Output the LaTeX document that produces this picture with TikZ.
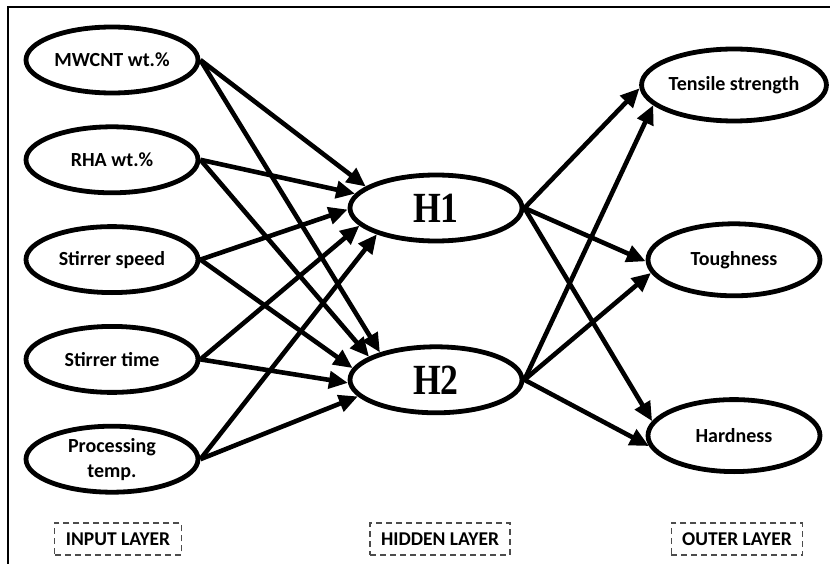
\documentclass[tikz,border=0pt]{standalone}
\usepackage{fontspec}
\setmainfont{Carlito}
\newfontfamily\hidfont[FakeStretch=0.83]{Liberation Serif}
\usetikzlibrary{shapes.geometric, arrows.meta, positioning}
\tikzstyle{inp} = [ellipse, line width=4.8pt, draw=black, minimum width=172pt, minimum height=66pt, inner sep=0pt, align=center, font=\fontsize{20}{25}\selectfont\bfseries]
\tikzstyle{hid} = [ellipse, line width=4.8pt, draw=black, minimum width=172pt, minimum height=66pt, inner sep=0pt, font=\hidfont\fontsize{43}{45}\selectfont\bfseries]
\tikzstyle{outp} = [inp, minimum height=72pt]
\tikzstyle{layer} = [rectangle, draw=black!70, dash pattern=on 6pt off 4pt, line width=1.3pt, minimum height=32pt, inner xsep=11pt, font=\fontsize{19.5}{22}\selectfont\bfseries]
\tikzstyle{arrow} = [line width=4.6pt, -{Triangle[length=19pt,width=17pt]}]

\begin{document}
\begin{tikzpicture}[x=1pt, y=-1pt, node distance = 29pt]
		\useasboundingbox (0,0) rectangle (830,564);
		\draw [line width=1.5pt] (8,564) -- (8,7) -- (830,7);
		% input layer
		\node (MWCNT) [inp] at (112,60) {MWCNT wt.\%};
		\node (RHA) [inp, below = of MWCNT] {RHA wt.\%};
		\node (Speed) [inp, below = of RHA] {Stirrer speed};
		\node (Time) [inp, below = of Speed] {Stirrer time};
		\node (Temp) [inp, below = of Time] {Processing\\temp.};
		% hidden layer
		\node (H1) [hid] at (436,208) {H1};
		\node (H2) [hid, below = 101pt of H1] {H2};
		% outer layer
		\node (Tensile) [outp] at (734,85) {Tensile strength};
		\node (Toughness) [outp, below = 98pt of Tensile] {Toughness};
		\node (Hardness) [outp, below = 99pt of Toughness] {Hardness};
		% layer labels
		\node (InputLayer) [layer] at (118,539) {INPUT LAYER};
		\node (HiddenLayer) [layer] at (440,539) {HIDDEN LAYER};
		\node (OuterLayer) [layer] at (737,539) {OUTER LAYER};
		% input -> hidden
		\draw [arrow] (MWCNT.east) -- (H1.163);
		\draw [arrow] (MWCNT.east) -- (H2.154);
		\draw [arrow] (RHA.east) -- (H1.170);
		\draw [arrow] (RHA.east) -- (H2.161);
		\draw [arrow] (Speed.east) -- (H1.181);
		\draw [arrow] (Speed.east) -- (H2.172);
		\draw [arrow] (Time.east) -- (H1.193);
		\draw [arrow] (Time.east) -- (H2.182);
		\draw [arrow] (Temp.east) -- (H1.204);
		\draw [arrow] (Temp.east) -- (H2.192);
		% hidden -> outer
		\draw [arrow] (H1.east) -- (Tensile.182);
		\draw [arrow] (H1.east) -- (Toughness.181);
		\draw [arrow] (H1.east) -- (Hardness.170);
		\draw [arrow] (H2.east) -- (Tensile.194);
		\draw [arrow] (H2.east) -- (Toughness.189);
		\draw [arrow] (H2.east) -- (Hardness.187);
\end{tikzpicture}
\end{document}
